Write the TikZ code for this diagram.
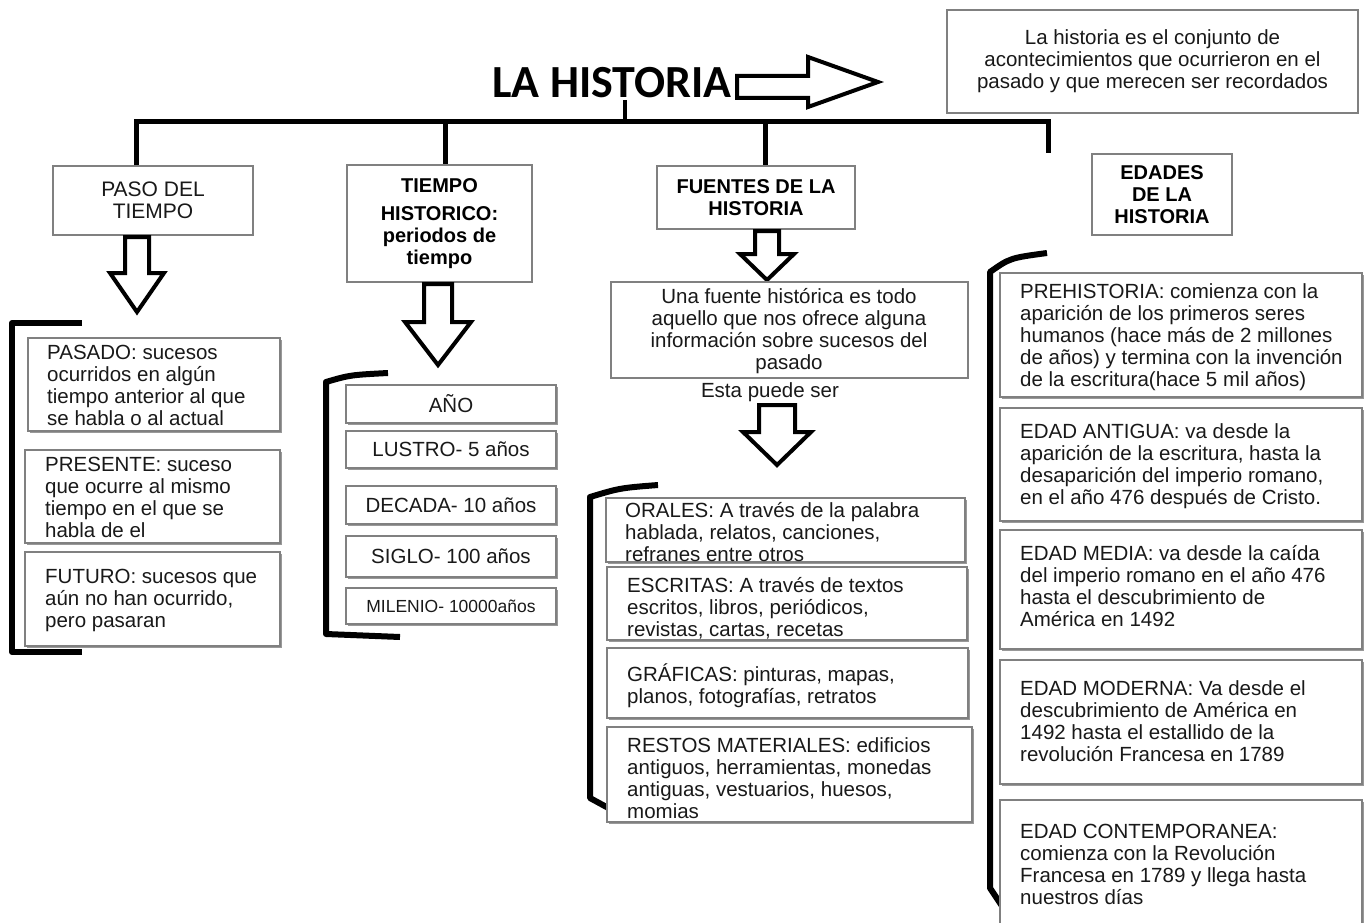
\documentclass[tikz,border=0pt]{standalone}
\usepackage{fontspec}
\setmainfont{Liberation Sans}
\newfontfamily\titlefont{Carlito}
\usetikzlibrary{shadows}
\definecolor{boxgray}{RGB}{128,128,128}
\definecolor{inkgray}{RGB}{25,25,25}
\newcommand\hdarrow[6]{%
  \draw[hollow] ({#1-#5},#2) -- ({#1+#5},#2) -- ({#1+#5},#3) -- ({#1+#6},#3) -- (#1,#4) -- ({#1-#6},#3) -- ({#1-#5},#3) -- cycle;}
\begin{document}
\begin{tikzpicture}[x=1pt,y=-1pt,
  box/.style={draw=boxgray, line width=1.8pt, fill=white, inner sep=0pt},
  sbox/.style={box, drop shadow={shadow xshift=2pt, shadow yshift=-2pt, fill=black!40, opacity=1}},
  txt/.style={inner sep=0pt, text=inkgray, font=\fontsize{20.5}{22}\selectfont, align=left, anchor=west},
  ctxt/.style={inner sep=0pt, text=inkgray, font=\fontsize{20.5}{22}\selectfont, align=center},
  btxt/.style={inner sep=0pt, font=\fontsize{20}{22}\selectfont\bfseries, align=center},
  conn/.style={line width=5pt, black, line join=miter},
  bracket/.style={line width=6pt, black, line join=round},
  hollow/.style={line width=4pt, black, fill=white, line join=miter},
]
\useasboundingbox[fill=white] (0,0) rectangle (1370,923);

% title and definition
\node[inner sep=0pt, anchor=base, font=\titlefont\fontsize{46}{50}\selectfont\bfseries] (title) at (612,98) {LA HISTORIA};
\draw[hollow] (737,76) -- (808,76) -- (808,57) -- (878,82) -- (808,107) -- (808,98) -- (737,98) -- cycle;
\node[box, minimum width=411, minimum height=103] (def) at (1152.5,61.5) {};
\node[ctxt] (def-t) at (def.center) {La historia es el conjunto de\\acontecimientos que ocurrieron en el\\pasado y que merecen ser recordados};

% top-level boxes
\node[box, minimum width=200, minimum height=69] (paso) at (153,200.5) {};
\node[ctxt, font=\fontsize{21}{22}\selectfont] (paso-t) at (paso.center) {PASO DEL\\TIEMPO};
\node[box, minimum width=185, minimum height=117] (tiempo) at (439.5,223.5) {};
\node[btxt] (tiempo-t) at (tiempo.center) {TIEMPO\\[6pt]HISTORICO:\\periodos de\\tiempo};
\node[box, minimum width=198, minimum height=63] (fuentes) at (756,197.5) {};
\node[btxt] (fuentes-t) at (fuentes.center) {FUENTES DE LA\\HISTORIA};
\node[box, minimum width=140, minimum height=81] (edades) at (1162,194.5) {};
\node[btxt] (edades-t) at (edades.center) {EDADES\\DE LA\\HISTORIA};

% connectors
\coordinate (bl) at (136,122);
\coordinate (br) at (1048,122);
\coordinate (j2) at (445,122);
\coordinate (j3) at (765,122);
\coordinate (tk) at (625,100);
\draw[conn] (bl |- paso.north) -- (bl) -- (br) -- (br |- edades.north);
\draw[conn] (j2) -- (j2 |- tiempo.north);
\draw[conn] (j3) -- (j3 |- fuentes.north);
\draw[line width=4pt] (tk) -- (tk |- bl);

% hollow down arrows
\hdarrow{137}{237}{273}{312}{12}{27}
\hdarrow{438}{284}{322}{365}{14}{33}
\hdarrow{767}{231}{254}{280}{12}{27}
\hdarrow{777}{405}{432}{465}{18}{34}

% PASO DEL TIEMPO children
\draw[bracket] (82,323) -- (12,323) -- (12,652) -- (82,652);
\node[sbox, minimum width=252, minimum height=93] (pasado) at (154,384.5) {};
\node[txt] (pasado-t) at (47,385) {PASADO: sucesos\\ocurridos en algún\\tiempo anterior al que\\se habla o al actual};
\node[sbox, minimum width=255, minimum height=93] (presente) at (152.5,496.5) {};
\node[txt] (presente-t) at (45,497.5) {PRESENTE: suceso\\que ocurre al mismo\\tiempo en el que se\\habla de el};
\node[sbox, minimum width=255, minimum height=94] (futuro) at (152.5,599) {};
\node[txt] (futuro-t) at (45,600) {FUTURO: sucesos que\\aún no han ocurrido,\\pero pasaran};

% TIEMPO HISTORICO children
\draw[bracket] (388,373) .. controls (350,375) .. (326,382) -- (326,634) -- (400,637);
\node[sbox, minimum width=210, minimum height=38] (ano) at (451,404) {};
\node[ctxt] (ano-t) at (ano.center) {AÑO};
\node[sbox, minimum width=210, minimum height=37] (lustro) at (451,449.5) {};
\node[ctxt] (lustro-t) at (lustro.center) {LUSTRO- 5 años};
\node[sbox, minimum width=210, minimum height=38] (decada) at (451,505) {};
\node[ctxt] (decada-t) at (decada.center) {DECADA- 10 años};
\node[sbox, minimum width=210, minimum height=41] (siglo) at (451,556.5) {};
\node[ctxt] (siglo-t) at (siglo.center) {SIGLO- 100 años};
\node[sbox, minimum width=210, minimum height=36] (milenio) at (451,606) {};
\node[ctxt, font=\fontsize{17.5}{20}\selectfont] (milenio-t) at (milenio.center) {MILENIO- 10000años};

% FUENTES children
\node[box, minimum width=357, minimum height=96] (una) at (789.5,330) {};
\node[ctxt] (una-t) at (789,331) {Una fuente histórica es todo\\aquello que nos ofrece alguna\\información sobre sucesos del\\pasado};
\node[ctxt] (esta) at (770,392) {Esta puede ser};
\draw[bracket] (658,485) .. controls (620,488) .. (590,497) -- (590,798) -- (612,810);
\node[sbox, minimum width=359, minimum height=64] (orales) at (785.5,530) {};
\node[txt] (orales-t) at (625,532.5) {ORALES: A través de la palabra\\hablada, relatos, canciones,\\refranes entre otros};
\node[sbox, minimum width=360, minimum height=73] (escritas) at (787,603.5) {};
\node[txt] (escritas-t) at (627,608.5) {ESCRITAS: A través de textos\\escritos, libros, periódicos,\\revistas, cartas, recetas};
\node[sbox, minimum width=361, minimum height=70] (graficas) at (787.5,683) {};
\node[txt] (graficas-t) at (627,686) {GRÁFICAS: pinturas, mapas,\\planos, fotografías, retratos};
\node[sbox, minimum width=365, minimum height=95] (restos) at (789.5,774.5) {};
\node[txt] (restos-t) at (627,778) {RESTOS MATERIALES: edificios\\antiguos, herramientas, monedas\\antiguas, vestuarios, huesos,\\momias};

% EDADES children
\draw[bracket] (1047,253) .. controls (1010,258) .. (990,272) -- (990,888) -- (1002,906);
\node[sbox, minimum width=362, minimum height=124] (prehist) at (1181,335) {};
\node[txt] (prehist-t) at (1020,337) {PREHISTORIA: comienza con la\\aparición de los primeros seres\\humanos (hace más de 2 millones\\de años) y termina con la invención\\de la escritura(hace 5 mil años)};
\node[sbox, minimum width=362, minimum height=113] (antigua) at (1181,464.5) {};
\node[txt] (antigua-t) at (1020,466) {EDAD ANTIGUA: va desde la\\aparición de la escritura, hasta la\\desaparición del imperio romano,\\en el año 476 después de Cristo.};
\node[sbox, minimum width=362, minimum height=119] (media) at (1181,589.5) {};
\node[txt] (media-t) at (1020,586.5) {EDAD MEDIA: va desde la caída\\del imperio romano en el año 476\\hasta el descubrimiento de\\América en 1492};
\node[sbox, minimum width=362, minimum height=124] (moderna) at (1181,722) {};
\node[txt] (moderna-t) at (1020,721.5) {EDAD MODERNA: Va desde el\\descubrimiento de América en\\1492 hasta el estallido de la\\revolución Francesa en 1789};
\node[sbox, minimum width=362, minimum height=135] (contemp) at (1181,867.5) {};
\node[txt] (contemp-t) at (1020,864.5) {EDAD CONTEMPORANEA:\\comienza con la Revolución\\Francesa en 1789 y llega hasta\\nuestros días};
\end{tikzpicture}
\end{document}
